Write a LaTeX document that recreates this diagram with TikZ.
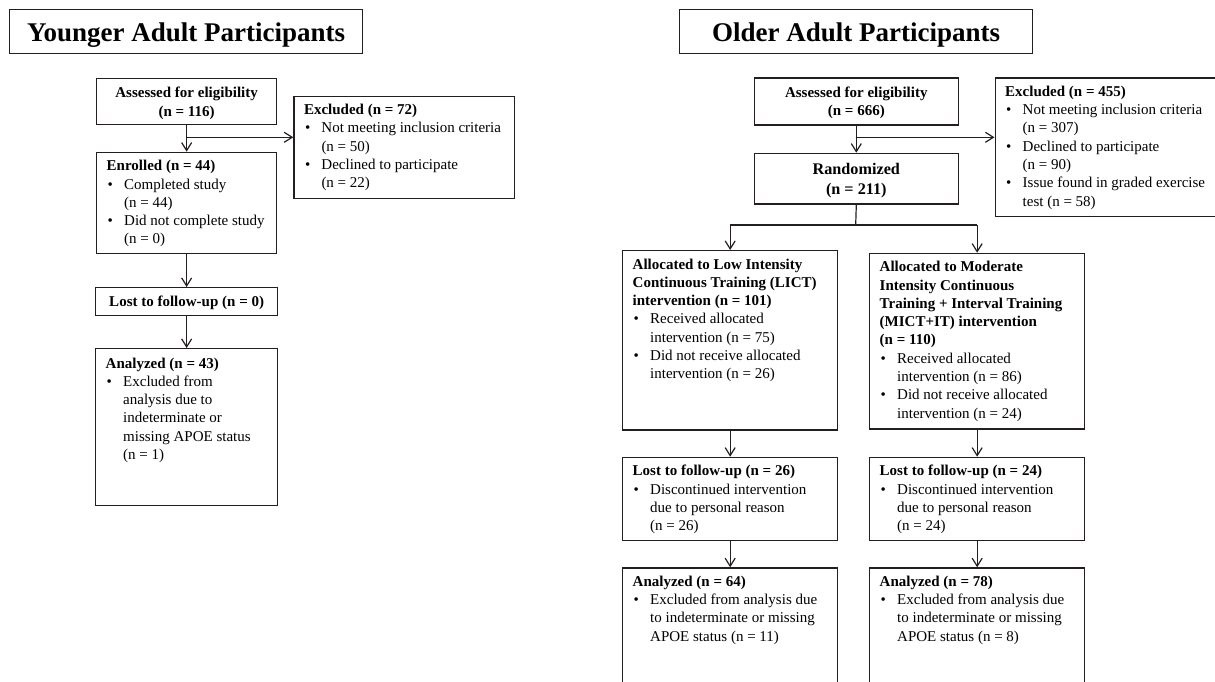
\documentclass[tikz,border=0pt]{standalone}
\usepackage{fontspec}
\setmainfont{Liberation Serif}
\usetikzlibrary{arrows.meta}
\definecolor{ln}{HTML}{231F20}
\newcommand{\bl}{\makebox[17.5pt][l]{\hspace{1pt}•}}
\newcommand{\ind}{\hspace*{17.5pt}}
\tikzset{
  box/.style={draw=ln, line width=1.3pt, inner sep=0pt, anchor=north west},
  cbox/.style={box, align=center, text depth=0pt, font=\bfseries\fontsize{15}{18.3}\selectfont},
  tbox/.style={box, align=center, text depth=0pt, font=\bfseries\fontsize{27}{30}\selectfont},
  txt/.style={inner sep=0pt, anchor=base west, font=\fontsize{15}{18.3}\selectfont},
  conn/.style={draw=ln, line width=1.2pt},
  arr/.style={conn, -{Straight Barb[length=8pt,width=10pt]}}
}
\begin{document}
\begin{tikzpicture}[x=1pt,y=-1pt]
\useasboundingbox (0,0) rectangle (1215,682);
\fill[white] (0,0) rectangle (1215,682);

% ---------- titles
\node[tbox, minimum width=353pt, minimum height=44pt] (titleY) at (9,9) {Younger Adult Participants};
\node[tbox, minimum width=353pt, minimum height=44pt] (titleO) at (679,9) {Older Adult Participants};

% ---------- younger column
\node[cbox, minimum width=180pt, minimum height=46pt] (assessL) at (96,78) {Assessed for eligibility\\(n = 116)};
\node[box, minimum width=220.7pt, minimum height=101.8pt] (exclL) at (293.3,95.7) {};
\node[txt] (exclLt) at ([shift={(10.5,19)}]exclL.north west) {\parbox[t]{240pt}{%
\textbf{Excluded (n = 72)}\\
\bl Not meeting inclusion criteria\\
\ind(n = 50)\\
\bl Declined to participate\\
\ind(n = 22)}};
\node[box, minimum width=180pt, minimum height=101.3pt] (enrollL) at (96,151.7) {};
\node[txt] (enrollLt) at ([shift={(10.5,19)}]enrollL.north west) {\parbox[t]{200pt}{%
\textbf{Enrolled (n = 44)}\\
\bl Completed study\\
\ind(n = 44)\\
\bl Did not complete study\\
\ind(n = 0)}};
\node[cbox, minimum width=182pt, minimum height=28pt] (lostL) at (95,287) {Lost to follow-up (n = 0)};
\node[box, minimum width=182pt, minimum height=157pt] (analyL) at (95,348) {};
\node[txt] (analyLt) at ([shift={(10.5,20)}]analyL.north west) {\parbox[t]{200pt}{%
\textbf{Analyzed (n = 43)}\\
\bl Excluded from\\
\ind analysis due to\\
\ind indeterminate or\\
\ind missing APOE status\\
\ind(n = 1)}};

\coordinate (brL) at (186,137.3);
\draw[arr] (assessL.south) -- (enrollL.north);
\draw[arr] (brL) -- (brL -| exclL.west);
\draw[arr] (enrollL.south) -- (lostL.north);
\draw[arr] (lostL.south) -- (analyL.north);

% ---------- older column
\node[cbox, minimum width=203.9pt, minimum height=47pt] (assessR) at (753.7,77.3) {Assessed for eligibility\\(n = 666)};
\node[box, minimum width=225.5pt, minimum height=138.4pt] (exclR) at (994.5,77.3) {};
\node[txt] (exclRt) at ([shift={(10.5,19)}]exclR.north west) {\parbox[t]{240pt}{%
\textbf{Excluded (n = 455)}\\
\bl Not meeting inclusion criteria\\
\ind(n = 307)\\
\bl Declined to participate\\
\ind(n = 90)\\
\bl Issue found in graded exercise\\
\ind test (n = 58)}};
\node[box, align=center, text depth=0pt, font=\bfseries\fontsize{16.2}{20}\selectfont, minimum width=203.9pt, minimum height=50.6pt] (rand) at (753.7,152.7) {Randomized\\(n = 211)};

\node[box, minimum width=215pt, minimum height=179.3pt] (lict) at (622,250) {};
\node[txt] (lictt) at ([shift={(10.5,19)}]lict.north west) {\parbox[t]{240pt}{%
\textbf{Allocated to Low Intensity}\\
\textbf{Continuous Training (LICT)}\\
\textbf{intervention (n = 101)}\\
\bl Received allocated\\
\ind intervention (n = 75)\\
\bl Did not receive allocated\\
\ind intervention (n = 26)}};
\node[box, minimum width=215pt, minimum height=175.6pt] (mict) at (869,252.7) {};
\node[txt] (mictt) at ([shift={(10.5,19)}]mict.north west) {\parbox[t]{240pt}{%
\textbf{Allocated to Moderate}\\
\textbf{Intensity Continuous}\\
\textbf{Training + Interval Training}\\
\textbf{(MICT+IT) intervention}\\
\textbf{(n = 110)}\\
\bl Received allocated\\
\ind intervention (n = 86)\\
\bl Did not receive allocated\\
\ind intervention (n = 24)}};

\node[box, minimum width=215pt, minimum height=83.3pt] (lostA) at (622,456.7) {};
\node[txt] (lostAt) at ([shift={(10.5,19)}]lostA.north west) {\parbox[t]{240pt}{%
\textbf{Lost to follow-up (n = 26)}\\
\bl Discontinued intervention\\
\ind due to personal reason\\
\ind(n = 26)}};
\node[box, minimum width=215pt, minimum height=83.3pt] (lostB) at (869,456.7) {};
\node[txt] (lostBt) at ([shift={(10.5,19)}]lostB.north west) {\parbox[t]{240pt}{%
\textbf{Lost to follow-up (n = 24)}\\
\bl Discontinued intervention\\
\ind due to personal reason\\
\ind(n = 24)}};

\node[box, minimum width=215pt, minimum height=132.7pt] (anA) at (622,567.3) {};
\node[txt] (anAt) at ([shift={(10.5,19)}]anA.north west) {\parbox[t]{240pt}{%
\textbf{Analyzed (n = 64)}\\
\bl Excluded from analysis due\\
\ind to indeterminate or missing\\
\ind APOE status (n = 11)}};
\node[box, minimum width=215pt, minimum height=132.7pt] (anB) at (869,567.3) {};
\node[txt] (anBt) at ([shift={(10.5,19)}]anB.north west) {\parbox[t]{240pt}{%
\textbf{Analyzed (n = 78)}\\
\bl Excluded from analysis due\\
\ind to indeterminate or missing\\
\ind APOE status (n = 8)}};

\coordinate (brR) at (855.7,137.3);
\coordinate (spl) at (855.7,225);
\draw[arr] (assessR.south) -- (rand.north);
\draw[arr] (brR) -- (brR -| exclR.west);
\draw[conn] (rand.south) -- (spl);
\draw[conn] (spl -| lict.north) -- (spl -| mict.north);
\draw[arr] (spl -| lict.north) -- (lict.north);
\draw[arr] (spl -| mict.north) -- (mict.north);
\draw[arr] (lict.south) -- (lostA.north);
\draw[arr] (mict.south) -- (lostB.north);
\draw[arr] (lostA.south) -- (anA.north);
\draw[arr] (lostB.south) -- (anB.north);
\end{tikzpicture}
\end{document}
